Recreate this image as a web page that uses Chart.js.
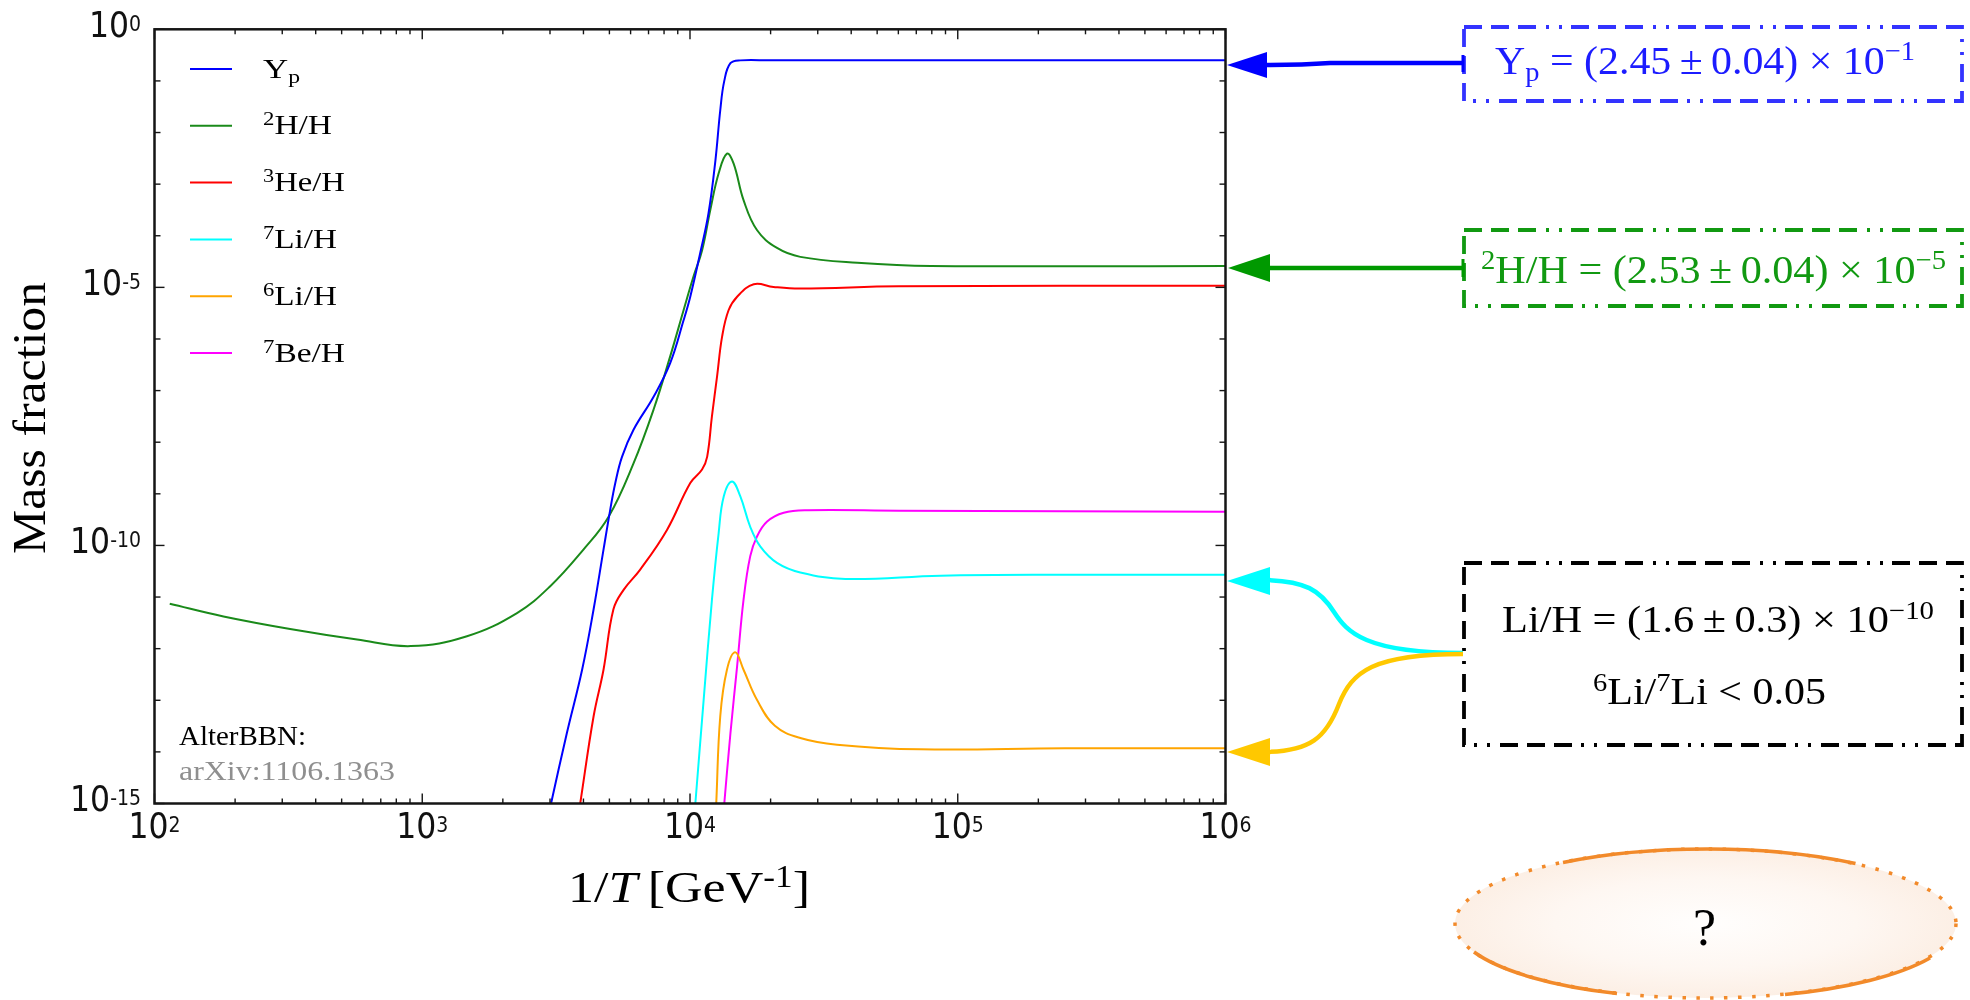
<!DOCTYPE html>
<html>
<head>
<meta charset="utf-8">
<title>BBN abundances</title>
<script src="https://cdn.jsdelivr.net/npm/chart.js@4.4.1/dist/chart.umd.min.js"></script>
<style>
  html, body { margin: 0; padding: 0; background: #fff; }
  #wrap { position: relative; width: 1970px; height: 1000px; overflow: hidden; background: #fff; }
  #myChart { position: absolute; left: 0; top: 0; }
  #notes { position: absolute; left: 0; top: 0; }
  .txt { position: absolute; white-space: nowrap; line-height: 1; }
  .serif { font-family: 'Liberation Serif', 'DejaVu Serif', serif; color: #000; }
  .serif sup { font-size: 0.68em; vertical-align: 0.5em; line-height: 0; }
  .serif sub { font-size: 0.68em; vertical-align: -0.25em; line-height: 0; }
  .tick { font-family: 'Liberation Sans Narrow', 'DejaVu Sans Condensed', 'Liberation Sans', sans-serif; color: #111; }
  .tick sup { font-size: 0.6em; vertical-align: 0.27em; line-height: 0; }
</style>
</head>
<body>
<div id="wrap">
  <canvas id="myChart" width="1970" height="1000"></canvas>
  <svg id="notes" width="1970" height="1000">
    <defs>
      <radialGradient id="peach" cx="0.5" cy="0.5" r="0.5">
        <stop offset="0" stop-color="#fffefd"/>
        <stop offset="0.6" stop-color="#fef7f2"/>
        <stop offset="1" stop-color="#fcefe5"/>
      </radialGradient>
    </defs>
    <!-- Yp box and arrow -->
    <rect x="1464" y="27" width="498" height="74" fill="none" stroke="#3333ff" stroke-width="3.8" stroke-dasharray="18 9 18 9 18 10 3 10 3 9"/>
    <path d="M1463 63 L1330 63 Q1300 65 1262 65" stroke="#0000ff" stroke-width="4.5" fill="none"/>
    <polygon points="1227,65 1267,52 1267,78" fill="#0000ff"/>
    <line x1="1463" y1="55" x2="1463" y2="72" stroke="#0000ff" stroke-width="3"/>
    <!-- D/H box and arrow -->
    <rect x="1464" y="230" width="498" height="76" fill="none" stroke="#119911" stroke-width="3.8" stroke-dasharray="18 9 18 9 18 10 3 10 3 9"/>
    <path d="M1463 268 L1266 268" stroke="#009900" stroke-width="4.5" fill="none"/>
    <polygon points="1228,268 1270,254 1270,282" fill="#009900"/>
    <line x1="1463" y1="259" x2="1463" y2="277" stroke="#009900" stroke-width="3"/>
    <!-- Li box and arrows -->
    <rect x="1464" y="563" width="498" height="182" fill="none" stroke="#000" stroke-width="3.8" stroke-dasharray="18 9 18 9 18 10 3 10 3 9"/>
    <path d="M1463 653 C1365 653 1347 632 1334 612 C1320 590 1305 581 1266 580" stroke="#00ffff" stroke-width="4.5" fill="none"/>
    <polygon points="1227,581 1270,567 1270,595" fill="#00ffff"/>
    <path d="M1463 654 C1372 654 1352 672 1339 704 C1326 738 1310 751 1266 752" stroke="#ffc800" stroke-width="4.5" fill="none"/>
    <polygon points="1227,752 1270,738 1270,766" fill="#ffc800"/>
    <!-- question ellipse -->
    <ellipse cx="1705.5" cy="923.5" rx="250.5" ry="74.5" fill="url(#peach)" stroke="#f28a2a" stroke-width="3.5" stroke-dasharray="3.5 10.5"/>
    <path d="M1563 862.5 A250.5 74.5 0 0 1 1855.5 863.5" stroke="#f28a2a" stroke-width="3.6" fill="none"/>
    <path d="M1474 952 A250.5 74.5 0 0 0 1617 993.5" stroke="#f28a2a" stroke-width="3.6" fill="none"/>
    <path d="M1785 994.5 A250.5 74.5 0 0 0 1930 958" stroke="#f28a2a" stroke-width="3.6" fill="none"/>
  </svg>
</div>
<script>
// values: x = 1/T [GeV^-1], y = mass fraction
var seriesNames = ['Y<sub>p</sub>', '<sup>2</sup>H/H', '<sup>3</sup>He/H', '<sup>7</sup>Li/H', '<sup>6</sup>Li/H', '<sup>7</sup>Be/H'];

var ypX = [3027, 3467, 3954, 4365, 4753, 5035, 5260, 5572, 6152, 7311, 8433, 9462, 10023, 10914, 11722, 12445, 12972, 13428, 14158, 15417, 19953, 1e6];
var ypY = [1e-15, 2.3e-14, 3.9e-13, 5.8e-12, 8.3e-11, 4.9e-10, 1.62e-9, 5.2e-9, 1.74e-8, 7.6e-8, 3.4e-7, 2.3e-6, 6.6e-6, 4.6e-5, 2.7e-4, 2.9e-3, 2.7e-2, 0.10, 0.22, 0.25, 0.25, 0.25];

var dhX = [114, 181, 321, 571, 906, 1469, 2259, 3006, 3999, 4966, 6152, 7311, 8433, 9462, 10304, 11092, 11912, 12794, 13740, 14555, 15849, 17783, 21135, 25823, 42170, 79433, 1e6];
var dhY = [7.4e-12, 4.2e-12, 2.4e-12, 1.5e-12, 1.12e-12, 1.74e-12, 4.9e-12, 1.62e-11, 8.3e-11, 3.6e-10, 3.9e-9, 4.3e-8, 4.6e-7, 3.6e-6, 1.62e-5, 5.2e-5, 3.2e-4, 1.62e-3, 3.9e-3, 2.5e-3, 4.9e-4, 1.29e-4, 5.8e-5, 3.9e-5, 3.0e-5, 2.6e-5, 2.6e-5];

var heX = [3890, 4365, 4753, 5176, 5649, 6516, 8204, 10023, 11092, 11588, 12078, 12618, 13183, 13932, 14997, 17298, 20512, 25823, 60256, 1e6];
var heY = [1e-15, 4.9e-14, 3.9e-13, 5.8e-12, 1.38e-11, 3.4e-11, 2.0e-10, 1.62e-9, 2.95e-9, 5.2e-9, 3.2e-8, 1.86e-7, 1.12e-6, 3.6e-6, 6.6e-6, 1.15e-5, 1.02e-5, 9.5e-6, 1.05e-5, 1.07e-5];

var li7X = [10471, 11246, 12078, 12794, 13366, 14355, 15417, 16788, 18323, 21135, 25823, 38019, 86298, 251768, 1e6];
var li7Y = [1e-15, 1.02e-13, 8.9e-12, 1.74e-10, 8.9e-10, 1.74e-9, 8.9e-10, 2.3e-10, 9.5e-11, 4.6e-11, 3.0e-11, 2.24e-11, 2.6e-11, 2.7e-11, 2.7e-11];

var li6X = [12531, 12972, 13740, 14757, 15849, 17783, 20749, 25823, 35400, 72277, 251768, 1e6];
var li6Y = [1e-15, 4.9e-14, 3.9e-13, 8.5e-13, 3.9e-13, 1.02e-13, 3.2e-14, 1.86e-14, 1.38e-14, 1.12e-14, 1.17e-14, 1.17e-14];

var be7X = [13428, 14158, 14997, 15849, 16788, 17783, 19409, 22387, 27542, 60395, 1e6];
var be7Y = [1e-15, 2.3e-14, 4.6e-13, 8.9e-12, 6.2e-11, 1.48e-10, 2.9e-10, 4.3e-10, 4.8e-10, 4.7e-10, 4.5e-10];

var xTickExp = [2, 3, 4, 5, 6];
var yTickExp = [0, -5, -10, -15];

var seriesColors = ['#0000ff', '#1a8a1a', '#ff0000', '#00ffff', '#ffa500', '#ff00ff'];

function pairs(xs, ys) {
  return xs.map(function (x, i) { return { x: x, y: ys[i] }; });
}

var allX = [ypX, dhX, heX, li7X, li6X, be7X];
var allY = [ypY, dhY, heY, li7Y, li6Y, be7Y];
var datasets = allX.map(function (xs, i) {
  return {
    label: seriesNames[i],
    data: pairs(xs, allY[i]),
    showLine: true,
    borderColor: seriesColors[i],
    backgroundColor: seriesColors[i],
    borderWidth: 2,
    pointRadius: 0,
    tension: 0.4,
    fill: false
  };
});

// frame with inward ticks on all four sides + legend swatches
var framePlugin = {
  id: 'frame',
  afterDraw: function (chart) {
    var ctx = chart.ctx, a = chart.chartArea;
    var xs = chart.scales.x, ys = chart.scales.y;
    ctx.save();
    ctx.strokeStyle = '#151515';
    ctx.lineWidth = 1.4;
    function seg(x1, y1, x2, y2) { ctx.beginPath(); ctx.moveTo(x1, y1); ctx.lineTo(x2, y2); ctx.stroke(); }
    for (var e = 2; e <= 6; e++) {
      for (var m = 1; m <= 9; m++) {
        if (e === 6 && m > 1) break;
        var px = xs.getPixelForValue(m * Math.pow(10, e));
        var len = m === 1 ? 10 : 5;
        seg(px, a.bottom, px, a.bottom - len);
        seg(px, a.top, px, a.top + len);
      }
    }
    for (var k = -15; k <= 0; k++) {
      var py = ys.getPixelForValue(Math.pow(10, k));
      var l2 = k % 5 === 0 ? 10 : 6;
      seg(a.left, py, a.left + l2, py);
      seg(a.right, py, a.right - l2, py);
    }
    ctx.lineWidth = 2.5;
    ctx.strokeRect(a.left, a.top, a.right - a.left, a.bottom - a.top);
    // legend swatches
    ctx.lineWidth = 2;
    chart.data.datasets.forEach(function (ds, i) {
      var y = 69 + i * 56.8;
      ctx.strokeStyle = ds.borderColor;
      seg(190, y, 232, y);
    });
    ctx.restore();
  }
};

var ctx = document.getElementById('myChart').getContext('2d');
var chart = new Chart(ctx, {
  type: 'scatter',
  data: { datasets: datasets },
  options: {
    responsive: false,
    animation: false,
    devicePixelRatio: 1,
    layout: { padding: { left: 154.5, top: 29.3, right: 744.5, bottom: 196.5 } },
    plugins: { legend: { display: false }, tooltip: { enabled: false } },
    scales: {
      x: { type: 'logarithmic', min: 1e2, max: 1e6, display: false },
      y: { type: 'logarithmic', min: 1e-15, max: 1, display: false }
    }
  },
  plugins: [framePlugin]
});

// html text helper: centre/left/right anchored, optional width fit and rotation
var wrap = document.getElementById('wrap');
function addText(html, o) {
  var el = document.createElement('div');
  el.className = 'txt ' + (o.cls || 'serif');
  el.innerHTML = html;
  el.style.fontSize = o.size + 'px';
  if (o.color) el.style.color = o.color;
  wrap.appendChild(el);
  var r = el.getBoundingClientRect();
  var w = r.width, h = r.height;
  var k = o.width ? o.width / w : 1;
  if (o.rotate) {
    el.style.left = (o.x - w / 2) + 'px';
    el.style.top = (o.y - h / 2) + 'px';
    el.style.transformOrigin = '50% 50%';
    el.style.transform = 'rotate(-90deg) scaleX(' + k + ')';
    return el;
  }
  var vis = w * k, left;
  if (o.align === 'left') left = o.x;
  else if (o.align === 'right') left = o.x - vis;
  else left = o.x - vis / 2;
  el.style.left = left + 'px';
  el.style.top = (o.y - h / 2) + 'px';
  el.style.transformOrigin = '0 0';
  el.style.transform = 'scaleX(' + k + ')';
  return el;
}

// tick labels placed with the chart scales
var xs = chart.scales.x, ys = chart.scales.y;
xTickExp.forEach(function (p) {
  addText('10<sup>' + p + '</sup>', { cls: 'tick', size: 35, x: xs.getPixelForValue(Math.pow(10, p)), y: 826 });
});
yTickExp.forEach(function (p) {
  addText('10<sup>' + p + '</sup>', { cls: 'tick', size: 35, align: 'right', x: 141, y: ys.getPixelForValue(Math.pow(10, p)) - 4 });
});

// axis titles
addText('Mass fraction', { size: 46, x: 30, y: 418, width: 272, rotate: true });
addText('1/<i>T</i>&#8201;[GeV<sup>-1</sup>]', { size: 45, x: 689, y: 887, width: 242 });

// legend labels
var legendW = [37, 69, 82, 74, 74, 82];
seriesNames.forEach(function (n, i) {
  addText(n, { size: 27, align: 'left', x: 263, y: 69 + i * 56.8, width: legendW[i] });
});

addText('AlterBBN:', { size: 28, align: 'left', x: 178.6, y: 736, width: 127 });
addText('arXiv:1106.1363', { size: 28, align: 'left', x: 178.6, y: 771, width: 216, color: '#8f8f8f' });

// annotation boxes
addText('Y<sub>p</sub> = (2.45&#8201;±&#8201;0.04) × 10<sup>−1</sup>', { size: 40, x: 1704.7, y: 61, width: 420, color: '#1c1cff' });
addText('<sup>2</sup>H/H = (2.53&#8201;±&#8201;0.04) × 10<sup>−5</sup>', { size: 40, x: 1713.8, y: 270, width: 465, color: '#119911' });
addText('Li/H = (1.6&#8201;±&#8201;0.3) × 10<sup>−10</sup>', { size: 38, x: 1718, y: 619, width: 432 });
addText('<sup>6</sup>Li/<sup>7</sup>Li &lt; 0.05', { size: 38, x: 1709.5, y: 691, width: 233 });
addText('?', { size: 52, x: 1704.5, y: 928 });
</script>
</body>
</html>
